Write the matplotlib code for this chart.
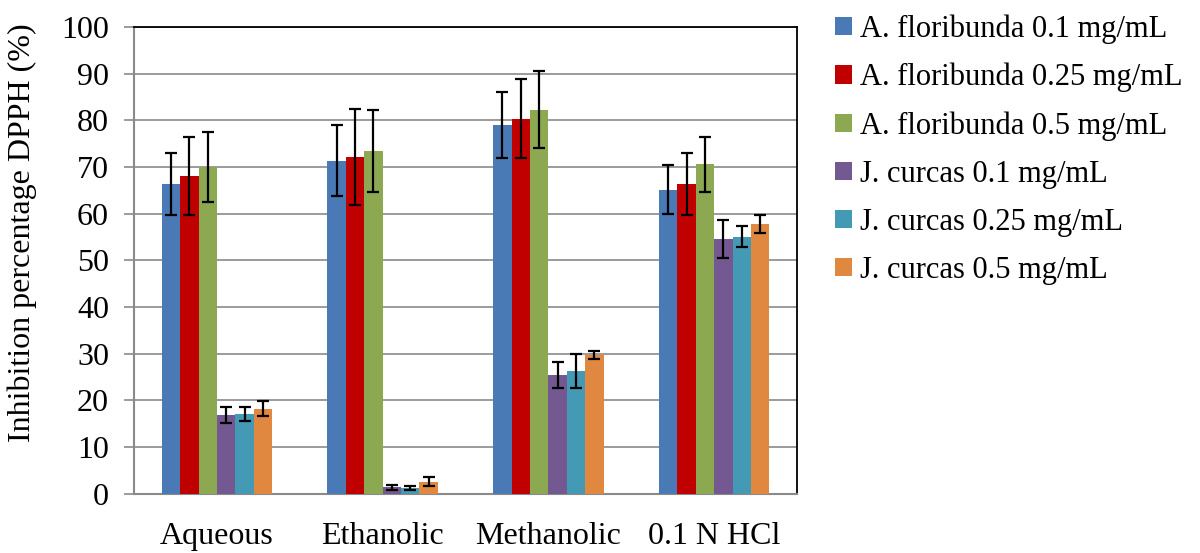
import numpy as np
import matplotlib
matplotlib.use('Agg')
import matplotlib.pyplot as plt

# extraction solvents on the x axis
categories = ['Aqueous', 'Ethanolic', 'Methanolic', '0.1 N HCl']

series_labels = ['A. floribunda 0.1 mg/mL', 'A. floribunda 0.25 mg/mL', 'A. floribunda 0.5 mg/mL',
                 'J. curcas 0.1 mg/mL', 'J. curcas 0.25 mg/mL', 'J. curcas 0.5 mg/mL']

# inhibition (%) per series, one value per category
af_01 = [66.4, 71.4, 79.0, 65.2]
af_025 = [68.1, 72.2, 80.4, 66.4]
af_05 = [70.1, 73.5, 82.3, 70.6]
jc_01 = [16.8, 1.4, 25.5, 54.6]
jc_025 = [17.2, 1.3, 26.3, 55.1]
jc_05 = [18.2, 2.6, 29.8, 57.8]

# error bar half-widths
af_01_err = [6.7, 7.6, 7.0, 5.3]
af_025_err = [8.3, 10.3, 8.5, 6.6]
af_05_err = [7.5, 8.8, 8.3, 5.9]
jc_01_err = [1.7, 0.5, 2.8, 4.0]
jc_025_err = [1.5, 0.4, 3.6, 2.3]
jc_05_err = [1.6, 0.9, 0.9, 1.9]

yticks = [0, 10, 20, 30, 40, 50, 60, 70, 80, 90, 100]

values = [af_01, af_025, af_05, jc_01, jc_025, jc_05]
errors = [af_01_err, af_025_err, af_05_err, jc_01_err, jc_025_err, jc_05_err]
colors = ['#4A7AB5', '#C00000', '#8CA952', '#735892', '#4499B4', '#E0883F']

plt.rcParams.update({
	'font.family': ['Liberation Serif', 'DejaVu Serif'],
	'font.size': 23,
})

fig = plt.figure(figsize=(12, 5.53), dpi=100)
ax = fig.add_axes([0.1117, 0.107, 0.5525, 0.844])

x = np.arange(len(categories))
width = 0.111
for i in range(len(values)):
	pos = x + (i - 2.5) * width
	ax.bar(pos, values[i], width, color=colors[i], label=series_labels[i], zorder=3)
	ax.errorbar(pos, values[i], yerr=errors[i], fmt='none', ecolor='black', elinewidth=1.6,
				capsize=4, capthick=1.6, zorder=4)

ax.set_xlim(-0.5, len(categories) - 0.5)
ax.set_ylim(0, 100)
ax.set_yticks(yticks)
ax.set_xticks(x)
ax.set_xticklabels(categories)
ax.yaxis.grid(True, color='#8a8a8a', linewidth=1.2, zorder=0)
ax.tick_params(axis='y', direction='out', length=7, width=1.2, color='#8a8a8a', pad=11)
ax.tick_params(axis='x', length=0, pad=20)

for s in ['left', 'bottom']:
	ax.spines[s].set_color('#8a8a8a')
	ax.spines[s].set_linewidth(1.5)
for s in ['top', 'right']:
	ax.spines[s].set_color('black')
	ax.spines[s].set_linewidth(1.3)

ax.set_ylabel('Inhibition percentage DPPH (%)')
ax.yaxis.set_label_coords(-0.147, 0.56)

fig.legend(loc='upper left', bbox_to_anchor=(0.686, 0.996), frameon=False,
		   handlelength=0.55, handleheight=0.55, handletextpad=0.25,
		   labelspacing=0.62, borderaxespad=0, fontsize=22)

fig.savefig('out.png', dpi=100)
